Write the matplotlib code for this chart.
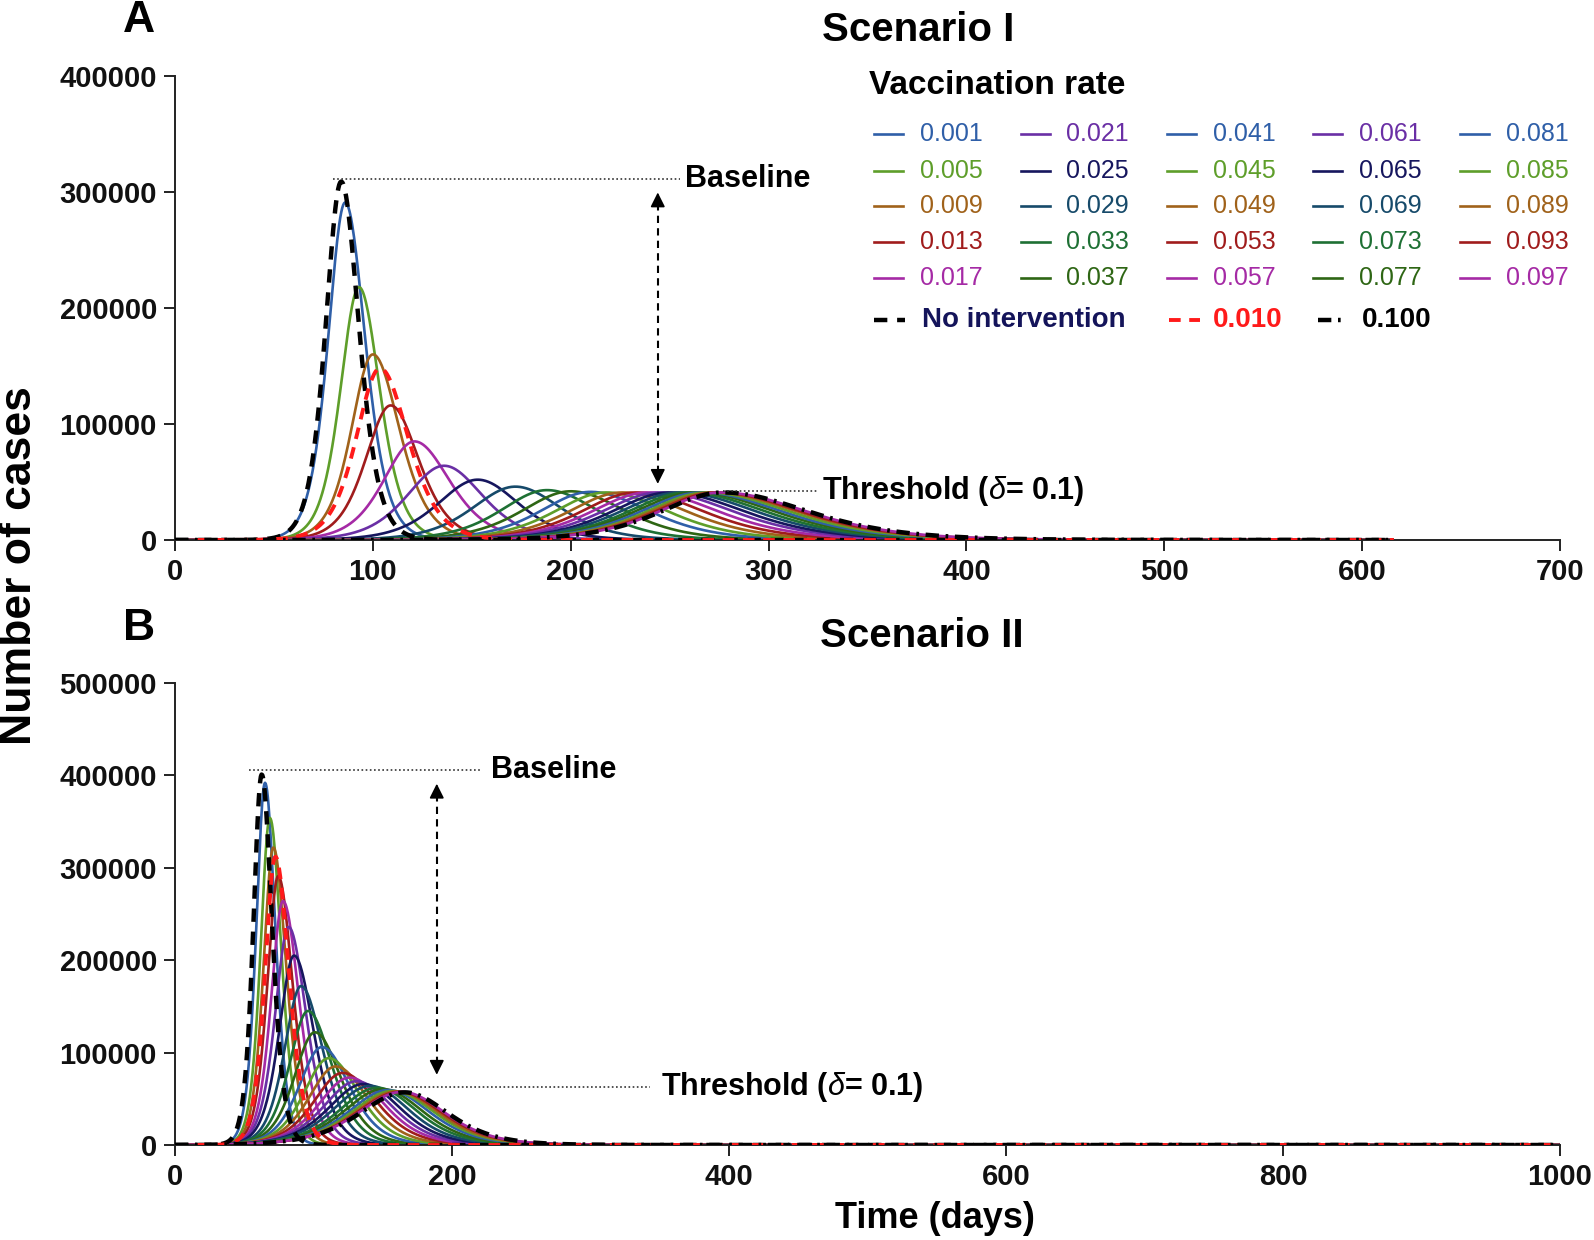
import numpy as np
import matplotlib
matplotlib.use("Agg")
import matplotlib.pyplot as plt
from matplotlib.lines import Line2D

plt.rcParams['font.family'] = ['Liberation Sans', 'DejaVu Sans']
plt.rcParams['mathtext.fontset'] = 'custom'
plt.rcParams['mathtext.it'] = 'Liberation Sans:italic'
plt.rcParams['mathtext.rm'] = 'Liberation Sans'

# ---------------- data ----------------
rate_labels = ['0.001', '0.005', '0.009', '0.013', '0.017',
               '0.021', '0.025', '0.029', '0.033', '0.037',
               '0.041', '0.045', '0.049', '0.053', '0.057',
               '0.061', '0.065', '0.069', '0.073', '0.077',
               '0.081', '0.085', '0.089', '0.093', '0.097']
palette = ['#2f5fa8', '#5e9e2a', '#a0621a', '#a01c1c', '#a52aa5',
           '#6a2fa5', '#16165e', '#164a6a', '#1e7034', '#2e6614']

# Scenario I: peak day, peak cases, rise width, decay width (days)
A_peak_day = [86, 93, 100, 109, 121, 136, 153, 172, 188, 200, 210, 218, 226, 233, 239,
              245, 250, 255, 259, 263, 266, 269, 272, 274, 276]
A_peak_val = [291000, 218000, 160000, 116000, 85000, 64000, 52000, 46000, 43000, 42000,
              41500, 41000, 41000, 41000, 41000, 41000, 41000, 41000, 41000, 41000,
              41000, 41000, 41000, 41000, 41000]
A_rise = [11.5, 12.5, 14.5, 17, 21, 25, 27, 29, 31, 33, 34, 35, 36, 37, 38,
          39, 39, 40, 40, 41, 41, 41, 42, 42, 42]
A_decay = [13.5, 14, 18, 19, 24, 26, 28, 31, 34, 37, 40, 42, 44, 46, 48,
           50, 51, 52, 53, 54, 55, 56, 57, 57, 58]
A_none = (84, 309000, 10.5, 12)      # no intervention
A_r010 = (103.6, 148000, 16, 19)     # rate 0.010
A_r100 = (277, 41000, 42, 58)        # rate 0.100
A_end = 616

# Scenario II
B_peak_day = [65, 68.5, 71, 74.5, 78, 82, 86, 91, 96, 101, 106, 111, 116, 121, 126,
              131, 136, 141, 146, 150, 154, 157, 160, 162, 164]
B_peak_val = [392000, 354000, 322000, 291000, 264000, 236000, 205000, 172000, 145000, 122000,
              106000, 94000, 85000, 78000, 73000, 69000, 66000, 64000, 62000, 60500,
              59500, 58500, 58000, 57500, 57500]
B_rise = [8.5, 9, 9.5, 10.5, 11.5, 13, 14.5, 16, 18, 20, 22, 24, 26, 28, 30,
          32, 34, 36, 37, 38, 39, 40, 41, 42, 43]
B_decay = [10, 11, 12.5, 14, 15.5, 17, 19, 21, 23, 25, 27, 29, 31, 33, 34,
           35, 36, 37, 38, 39, 40, 41, 41, 42, 42]
B_none = (62.6, 401000, 8, 10)
B_r010 = (72.5, 312000, 10, 13)
B_r100 = (166, 57000, 44, 42)
B_end = 1000

W, H = 1594, 1240


def profile(t, peak_day, peak_val, rise, decay):
    w = np.where(t < peak_day, rise, decay)
    return peak_val / np.cosh((t - peak_day) / w) ** 2


fig = plt.figure(figsize=(W / 100, H / 100), dpi=100)


def fx(x):
    return x / W


def fy(y):
    return 1 - y / H


axA = fig.add_axes([fx(175), fy(540), (1560 - 175) / W, (540 - 76) / H])
axB = fig.add_axes([fx(175), fy(1145), (1560 - 175) / W, (1145 - 683) / H])


def draw_panel(ax, days, vals, rises, decays, none, r010, r100, end):
    t = np.arange(0, end + 0.25, 0.5)
    for i in range(len(days)):
        ax.plot(t, profile(t, days[i], vals[i], rises[i], decays[i]),
                color=palette[i % 10], lw=1.9, solid_capstyle='butt', zorder=2)
    ax.plot(t, profile(t, *none), color='black', lw=3.2, ls=(0, (3, 2.2)), zorder=3)
    ax.plot(t, profile(t, *r010), color='#ff1a1a', lw=2.8, ls=(0, (3, 2.2)), zorder=3)
    ax.plot(t, profile(t, *r100), color='black', lw=3.2, ls=(0, (3, 1.5, 0.6, 1.5)), zorder=3)


draw_panel(axA, A_peak_day, A_peak_val, A_rise, A_decay, A_none, A_r010, A_r100, A_end)
draw_panel(axB, B_peak_day, B_peak_val, B_rise, B_decay, B_none, B_r010, B_r100, B_end)

for ax, xmax, xstep, ymax in [(axA, 700, 100, 400000), (axB, 1000, 200, 500000)]:
    ax.set_xlim(0, xmax)
    ax.set_ylim(0, ymax)
    ax.set_xticks(np.arange(0, xmax + 1, xstep))
    ax.set_yticks(np.arange(0, ymax + 1, 100000))
    ax.set_yticklabels([str(v) for v in range(0, ymax + 1, 100000)])
    for s in ['top', 'right']:
        ax.spines[s].set_visible(False)
    for s in ['left', 'bottom']:
        ax.spines[s].set_linewidth(1.4)
        ax.spines[s].set_color('#222222')
    ax.tick_params(axis='both', direction='out', length=8, width=1.4, color='#222222',
                   labelsize=21, pad=5)
    for lab in ax.get_xticklabels() + ax.get_yticklabels():
        lab.set_fontweight('bold')
        lab.set_color('#111111')

# ---------------- annotations ----------------
def annotate(ax, base_x0, base_x1, base_y, arrow_x, arrow_top, arrow_bot,
             thr_x0, thr_x1, thr_y, base_text_x, thr_text_x, head):
    ax.plot([base_x0, base_x1], [base_y, base_y], ls=(0, (1, 1.5)), color='#333333', lw=1.2, zorder=4)
    ax.text(base_text_x, base_y, 'Baseline', fontsize=22, fontweight='bold', va='center', ha='left')
    ax.plot([thr_x0, thr_x1], [thr_y, thr_y], ls=(0, (1, 1.5)), color='#333333', lw=1.2, zorder=4)
    ax.text(thr_text_x, thr_y, r'Threshold ($\delta$= 0.1)', fontsize=22, fontweight='bold',
            va='center', ha='left')
    ax.plot([arrow_x, arrow_x], [arrow_bot + head, arrow_top - head], ls=(0, (3.5, 2.5)),
            color='black', lw=1.5, zorder=4)
    ax.annotate('', xy=(arrow_x, arrow_top), xytext=(arrow_x, arrow_top - head * 1.2),
                arrowprops=dict(arrowstyle='-|>', color='black', lw=1.2, mutation_scale=22))
    ax.annotate('', xy=(arrow_x, arrow_bot), xytext=(arrow_x, arrow_bot + head * 1.2),
                arrowprops=dict(arrowstyle='-|>', color='black', lw=1.2, mutation_scale=22))


annotate(axA, 80, 255, 311000, 244, 302000, 46000, 277, 325, 42500, 258, 327, 12000)
annotate(axB, 53.5, 222, 406000, 189, 394000, 73000, 156, 343, 63000, 228, 351, 15000)

# ---------------- titles and labels ----------------
fig.text(fx(139), fy(21), 'A', fontsize=32, fontweight='bold', ha='center', va='center')
fig.text(fx(139), fy(629), 'B', fontsize=32, fontweight='bold', ha='center', va='center')
fig.text(fx(918), fy(30), 'Scenario I', fontsize=29, fontweight='bold', ha='center', va='center')
fig.text(fx(922), fy(636), 'Scenario II', fontsize=29, fontweight='bold', ha='center', va='center')
fig.text(fx(20), fy(566), 'Number of cases', fontsize=32, fontweight='bold', rotation=90,
         ha='center', va='center')
fig.text(fx(935), fy(1218), 'Time (days)', fontsize=26, fontweight='bold', ha='center', va='center')

# ---------------- legend ----------------
fig.text(fx(869), fy(85), 'Vaccination rate', fontsize=24, fontweight='bold', ha='left', va='center')
col_handle_x = [874, 1021, 1167, 1313, 1460]
col_text_x = [920, 1066, 1213, 1359, 1506]
row_y = [134, 171, 206, 242, 278]
for i, lab in enumerate(rate_labels):
    c, r = divmod(i, 5)
    col = palette[i % 10]
    fig.add_artist(Line2D([fx(col_handle_x[c]), fx(col_handle_x[c] + 29)],
                          [fy(row_y[r]), fy(row_y[r])], transform=fig.transFigure,
                          color=col, lw=1.9))
    fig.text(fx(col_text_x[c]), fy(row_y[r]), lab, fontsize=18, color=col, ha='left', va='center')

ly = 320
fig.add_artist(Line2D([fx(874), fx(905)], [fy(ly), fy(ly)], transform=fig.transFigure,
                      color='black', lw=3.2, ls=(0, (3, 2.2))))
fig.text(fx(922), fy(ly), 'No intervention', fontsize=20, fontweight='bold', color='#14145a',
         ha='left', va='center')
fig.add_artist(Line2D([fx(1169), fx(1200)], [fy(ly), fy(ly)], transform=fig.transFigure,
                      color='#ff1a1a', lw=2.8, ls=(0, (3, 2.2))))
fig.text(fx(1213), fy(ly), '0.010', fontsize=20, fontweight='bold', color='#ff1a1a',
         ha='left', va='center')
fig.add_artist(Line2D([fx(1318), fx(1345)], [fy(ly), fy(ly)], transform=fig.transFigure,
                      color='black', lw=3.2, ls=(0, (3, 1.5, 0.6, 1.5))))
fig.text(fx(1362), fy(ly), '0.100', fontsize=20, fontweight='bold', color='black',
         ha='left', va='center')

fig.savefig('out.png', dpi=100)
